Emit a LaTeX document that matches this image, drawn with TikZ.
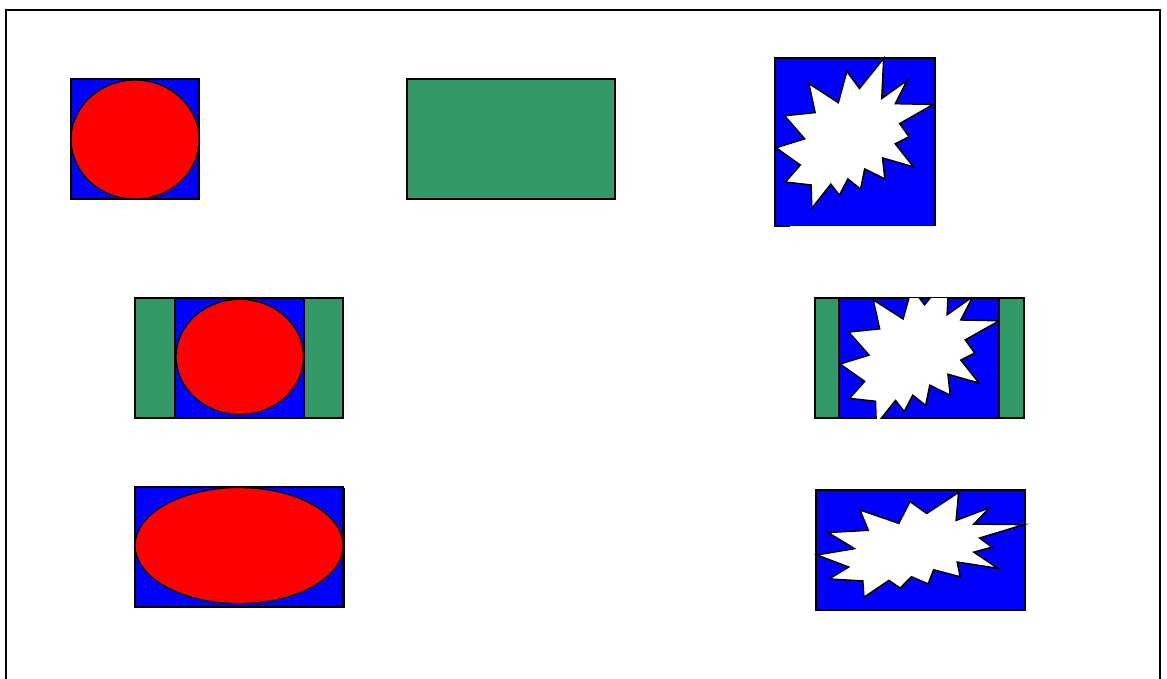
\documentclass[tikz,border=0pt]{standalone}
\usepackage{xcolor}
\usepackage{tikz}
\definecolor{seagreen}{RGB}{51,153,102}

\begin{document}
\begin{tikzpicture}[
    x=1pt, y=-1pt,
    frame/.style={draw, line width=1.6pt},
    bluebox/.style={fill=blue, draw=black, line width=1.3pt},
    greenbox/.style={fill=seagreen, draw=black, line width=1.3pt},
    redoval/.style={fill=red, draw=black, line width=1.3pt},
    burst/.pic={
        \filldraw[fill=white, draw=black, line width=1.5pt, line join=miter]
            (53.06,20.10) -- (68.47,0) -- (67.25,26.75) -- (83.37,14.69) -- (75.83,30.24)
            -- (100,30.76) -- (78.63,43.53) -- (84.58,52.27) -- (75.83,56.99) -- (87.39,72.37)
            -- (67.78,66.44) -- (69.18,80.42) -- (56.39,73.77) -- (53.76,87.23) -- (45.70,80.42)
            -- (40.28,91.26) -- (34.85,83.91) -- (22.76,100) -- (22.25,84.44) -- (5.95,82.52)
            -- (15.42,71.16) -- (0,59.62) -- (18.22,53.67) -- (5.43,38.29) -- (24.87,36.19)
            -- (20.84,16.78) -- (39.58,29.55) -- (45.01,8.74) -- cycle;
    }
]
\useasboundingbox (0,0) rectangle (1167,679);
\draw[frame] (6,679) -- (6,10) -- (1160,10) -- (1160,679);

% top row
\filldraw[bluebox] (71,79) rectangle (199,199);
\filldraw[redoval] (135,139.5) ellipse [x radius=64pt, y radius=59.5pt];
\filldraw[greenbox] (407,79) rectangle (615,199);
\fill[blue] (775,58) rectangle (935,226);
\draw[line width=1.3pt] (790,226) -- (775,226) -- (775,58) -- (935,58) -- (935,226);
\pic[shift={(776,58.3)}, xscale=1.573, yscale=1.5] {burst};

% middle row
\filldraw[bluebox] (135,298) rectangle (343,418);
\filldraw[redoval] (239.7,356.8) ellipse [x radius=63.7pt, y radius=57.5pt];
\filldraw[greenbox] (135,298) rectangle (175,418);
\filldraw[greenbox] (304,298) rectangle (343,418);

\filldraw[bluebox] (815,298) rectangle (1024,418);
\begin{scope}
    \clip (815,298) rectangle (1024,418);
    \pic[shift={(840,274.6)}, xscale=1.593, yscale=1.5] {burst};
\end{scope}
\filldraw[greenbox] (815,298) rectangle (839,418);
\filldraw[greenbox] (999,298) rectangle (1024,418);

% bottom row
\filldraw[bluebox] (135,487) rectangle (343,607);
\draw[line width=1.3pt] (344.5,488) -- (344.5,607.5) -- (136,607.5);
\filldraw[redoval] (239,545.5) ellipse [x radius=104pt, y radius=58pt];
\filldraw[bluebox] (816,490) rectangle (1025,610);
\pic[shift={(816.7,492.3)}, xscale=2.073, yscale=1.05] {burst};
\end{tikzpicture}
\end{document}
